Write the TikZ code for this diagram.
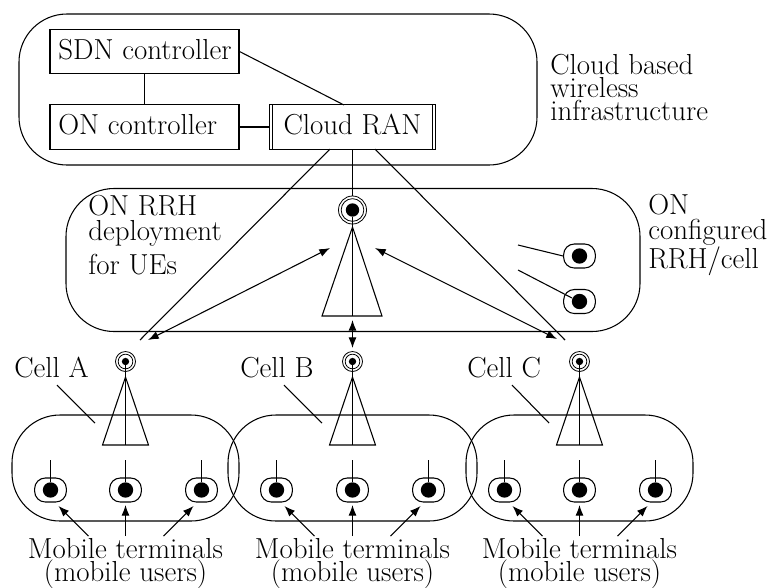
\documentclass[tikz,border=0pt]{standalone}
\usetikzlibrary{arrows.meta,calc}
\tikzset{
  x=0.75pt,y=-0.75pt,
  every node/.style={font=\fontsize{21.7}{17.25}\selectfont},
  wide/.style={font=\fontsize{21.7}{18.75}\selectfont},
  ln/.style={line width=0.8pt,black},
  arr/.style={ln,-{Latex[length=8pt,width=6pt]}},
  darr/.style={ln,{Latex[length=8pt,width=6pt]}-{Latex[length=8pt,width=6pt]}},
  lobe/.style={ln,draw,rectangle,rounded corners=36pt,inner sep=0pt},
  boxn/.style={ln,draw,rectangle,inner sep=0pt,minimum width=141.75pt,minimum height=33.5pt},
  txt/.style={inner sep=0pt,anchor=base west,align=left},
  ctxt/.style={inner sep=0pt,anchor=base,align=center},
  term/.style={ln,draw,rectangle,rounded corners=8pt,minimum width=23.8pt,minimum height=18pt,inner sep=0pt},
  dot/.style={fill=black,circle,inner sep=0pt,minimum size=11.5pt},
  ring/.style={line width=0.6pt,black,draw,circle,inner sep=0pt},
}
\newcommand{\mobile}[3]{% name, x, y
  \node[term] (#1) at (#2,#3) {};
  \node[dot] (#1-d) at (#2,#3) {};
  \coordinate (#1-t) at (#2,#3-30);
  \draw[ln] (#1-t) -- (#1-d);
}
\newcommand{\smallant}[2]{% name, x
  \node[ring,minimum size=15pt] (#1) at (#2,361.5) {};
  \node[ring,minimum size=11pt] at (#2,361.5) {};
  \node[dot,minimum size=5.5pt] (#1-d) at (#2,361.5) {};
  \coordinate (#1-apex) at (#2,377);
  \coordinate (#1-l) at (#2-23,445);
  \coordinate (#1-r) at (#2+23,445);
  \coordinate (#1-b) at (#2,445);
  \draw[ln] (#1-apex) -- (#1-l) -- (#1-r) -- cycle;
  \draw[ln] (#1-d) -- (#1-b);
}
\newcommand{\cellgroup}[5]{% id, m1, m2, m3, antenna x
  \mobile{#1a}{#2}{490}
  \mobile{#1b}{#3}{490}
  \mobile{#1c}{#4}{490}
  \smallant{#1ant}{#5}
  \coordinate (#1s1) at (#2+38,536);
  \coordinate (#1s2) at (#3,536);
  \coordinate (#1s3) at (#4-38,536);
  \coordinate (#1e1) at (#2+8,506);
  \coordinate (#1e2) at (#3,505);
  \coordinate (#1e3) at (#4-8,506);
  \draw[arr] (#1s1) -- (#1e1);
  \draw[arr] (#1s2) -- (#1e2);
  \draw[arr] (#1s3) -- (#1e3);
  \node[ctxt] (#1mt) at (#3,558) {Mobile terminals};
  \node[ctxt] (#1mu) at (#3,581) {(mobile users)};
}
\begin{document}
\begin{tikzpicture}
\useasboundingbox[fill=white] (0,0) rectangle (768,587);
% cloud
\node[lobe,minimum width=388.5pt,minimum height=113.25pt] (cloud) at (278,89.5) {};
\node[boxn] (sdn) at (144.5,51.5) {};
\node[inner sep=0pt,anchor=base west] (sdnt) at (58,59) {SDN controller};
\node[boxn] (onc) at (144.5,127) {};
\node[inner sep=0pt,anchor=base west] (onct) at (58,134) {ON controller};
\node[ln,draw,rectangle,inner sep=0pt,minimum width=125pt,minimum height=33.5pt] (ran) at (352.5,127) {};
\node[inner sep=0pt,anchor=base] (rant) at (352.5,134) {Cloud RAN};
\draw[ln] ([xshift=3pt]ran.north west) -- ([xshift=3pt]ran.south west);
\draw[ln] ([xshift=-3pt]ran.north east) -- ([xshift=-3pt]ran.south east);
\draw[ln] (sdn.south) -- (onc.north);
\draw[ln] (onc.east) -- (ran.west);
\coordinate (rantop) at (344,105);
\draw[ln] (sdn.east) -- (rantop);
\node[txt] (cloudt) at (550,120) {Cloud based\\wireless\\infrastructure};
% ON RRH
\node[lobe,minimum width=430.5pt,minimum height=107.25pt] (rrh) at (353,260) {};
\node[txt,wide] (rrht) at (88,274) {ON RRH\\deployment\\[4.5pt]for UEs};
\node[txt,wide] (cfgt) at (648,268) {ON\\configured\\RRH/cell};
\node[ring,minimum size=21pt] (big) at (352.5,210) {};
\node[ring,minimum size=17pt] at (352.5,210) {};
\node[dot,minimum size=10pt] (bigd) at (352.5,210) {};
\coordinate (bigapex) at (352.5,227);
\coordinate (bigl) at (322,316);
\coordinate (bigr) at (382,316);
\coordinate (bigb) at (352.5,316);
\draw[ln] (bigapex) -- (bigl) -- (bigr) -- cycle;
\draw[ln] (bigd) -- (bigb);
\coordinate (ranl) at (330,149);
\coordinate (ranr) at (375,149);
\coordinate (endl) at (140,340);
\coordinate (endr) at (565,340);
\draw[ln] (ranl) -- (endl);
\draw[ln] (ranr) -- (endr);
\draw[ln] (ran.south) -- (big.north);
% configured terminals
\node[term] (t1) at (579.5,256) {};
\node[dot] at (579.5,256) {};
\node[term] (t2) at (579.5,301.5) {};
\node[dot] (t2d) at (579.5,301.5) {};
\coordinate (t1s) at (518,245);
\coordinate (t2s) at (518,270);
\coordinate (t2e) at (572,298);
\draw[ln] (t1s) -- (t1.west);
\draw[ln] (t2s) -- (t2e);
% arrows between tiers
\coordinate (al) at (148,340);
\coordinate (alt) at (330,248);
\coordinate (ar) at (557,339);
\coordinate (art) at (375,248);
\coordinate (mt) at (352.5,320);
\coordinate (mb) at (352.5,348);
\draw[darr] (al) -- (alt);
\draw[darr] (ar) -- (art);
\draw[darr] (mt) -- (mb);
% lobes
\node[lobe,minimum width=170.25pt,minimum height=79.5pt] (la) at (125.5,468) {};
\node[lobe,minimum width=186.75pt,minimum height=79.5pt] (lb) at (352.5,468) {};
\node[lobe,minimum width=170.25pt,minimum height=79.5pt] (lc) at (579.5,468) {};
\cellgroup{A}{50.5}{125.5}{201.5}{125.5}
\cellgroup{B}{276.5}{352.5}{428.5}{352.5}
\cellgroup{C}{504.5}{579.5}{655.5}{579.5}
% cell labels
\node[txt] (ca) at (14,377) {Cell A};
\node[txt] (cb) at (240,377) {Cell B};
\node[txt] (cc) at (467,377) {Cell C};
\coordinate (ca1) at (57,385); \coordinate (ca2) at (95,423);
\coordinate (cb1) at (284,385); \coordinate (cb2) at (322,423);
\coordinate (cc1) at (512,385); \coordinate (cc2) at (549,423);
\draw[ln] (ca1) -- (ca2);
\draw[ln] (cb1) -- (cb2);
\draw[ln] (cc1) -- (cc2);
\end{tikzpicture}
\end{document}
